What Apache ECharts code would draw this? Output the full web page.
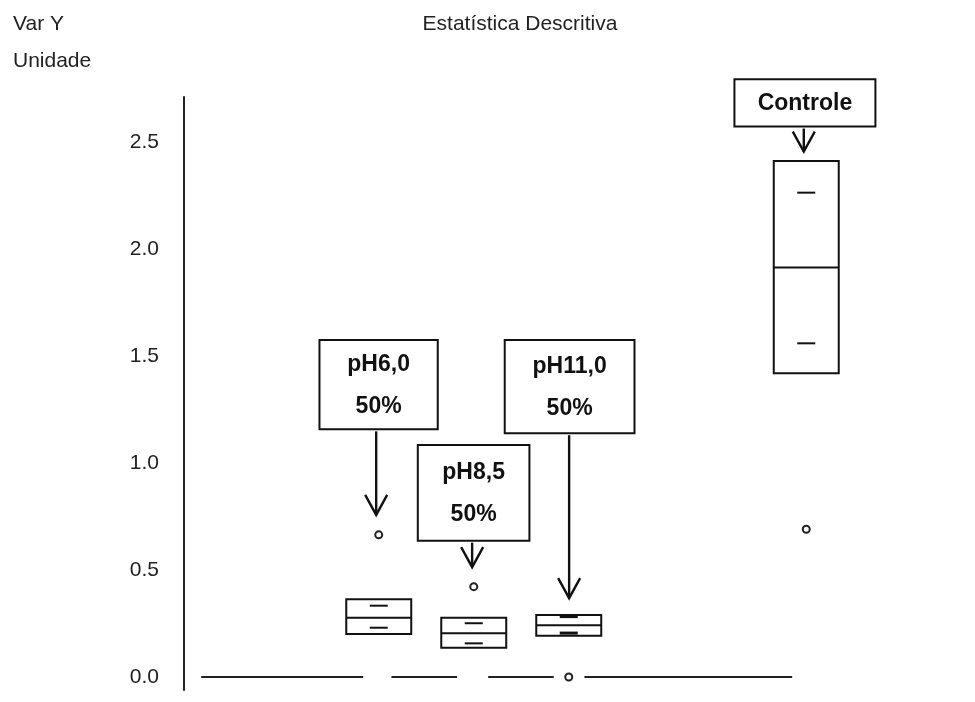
<!DOCTYPE html>
<html>
<head>
<meta charset="utf-8">
<script src="https://cdn.jsdelivr.net/npm/echarts@6/dist/echarts.min.js"></script>
<style>
  html, body { margin: 0; padding: 0; background: #fff; }
  #chart { width: 975px; height: 702px; }
</style>
</head>
<body>
<div id="chart"></div>
<script>
// ---- data ----
var categories = ['pH6,0', 'pH8,5', 'pH11,0', 'Controle'];
var xPos       = [2, 3, 4, 6.5];
var q1         = [0.201, 0.136, 0.192, 1.419];
var median     = [0.277, 0.204, 0.241, 1.913];
var q3         = [0.363, 0.277, 0.290, 2.411];
var upperMark  = [0.333, 0.251, 0.282, 2.263];
var lowerMark  = [0.230, 0.157, 0.205, 1.559];
var outliers   = [0.664, 0.422, 0.0, 0.690];

var baseStart  = [0.131, 2.134, 3.152, 4.165];
var baseEnd    = [1.836, 2.825, 3.842, 6.352];

var annoLabels = ['pH6,0\n50%', 'pH8,5\n50%', 'pH11,0\n50%', 'Controle'];
var annoX0     = [1.376, 2.411, 3.326, 5.744];
var annoX1     = [2.621, 3.586, 4.692, 7.228];
var annoTop    = [1.575, 1.084, 1.575, 2.793];
var annoBottom = [1.157, 0.637, 1.139, 2.572];
var arrowX     = [1.973, 2.983, 4.004, 6.474];
var arrowTip   = [0.757, 0.513, 0.368, 2.455];

var yTicks = [0, 0.5, 1.0, 1.5, 2.0, 2.5];

// ---- build ----
var boxData = categories.map(function (c, i) {
  return [xPos[i], q1[i], median[i], q3[i], upperMark[i], lowerMark[i], i];
});
var outlierData = categories.map(function (c, i) { return [xPos[i], outliers[i]]; });
var baseData = baseStart.map(function (s, i) { return [s, baseEnd[i]]; });
var annoData = annoLabels.map(function (l, i) {
  return [annoX0[i], annoX1[i], annoTop[i], annoBottom[i], arrowX[i], arrowTip[i], i];
});

var BOX_HALF = 0.342;
var chart = echarts.init(document.getElementById('chart'));
var FONT = '"Liberation Sans", Arial, sans-serif';

chart.setOption({
  animation: false,
  backgroundColor: '#ffffff',
  title: [
    { text: 'Estatística Descritiva', left: 520, top: 13, textAlign: 'center', padding: 0,
      textStyle: { fontFamily: FONT, fontSize: 21, fontWeight: 'normal', color: '#222', lineHeight: 22 } },
    { text: 'Var Y', left: 13, top: 13, padding: 0,
      textStyle: { fontFamily: FONT, fontSize: 21, fontWeight: 'normal', color: '#222', lineHeight: 22 } },
    { text: 'Unidade', left: 13, top: 50, padding: 0,
      textStyle: { fontFamily: FONT, fontSize: 21, fontWeight: 'normal', color: '#222', lineHeight: 22 } }
  ],
  grid: { left: 184, right: 26.25, top: 97, bottom: 12, containLabel: false },
  xAxis: { type: 'value', min: -0.05, max: 8, show: false },
  yAxis: {
    type: 'value', min: -0.061, max: 2.71,
    axisLine: { show: true, onZero: false, lineStyle: { color: '#222', width: 2 } },
    axisTick: { show: false },
    splitLine: { show: false },
    axisLabel: {
      customValues: yTicks,
      margin: 25,
      fontFamily: FONT, fontSize: 21, color: '#222',
      formatter: function (v) { return Number(v).toFixed(1); }
    }
  },
  series: [
    {
      type: 'custom',
      data: baseData,
      clip: false,
      renderItem: function (params, api) {
        var a = api.coord([api.value(0), 0]);
        var b = api.coord([api.value(1), 0]);
        return { type: 'line', shape: { x1: a[0], y1: a[1], x2: b[0], y2: b[1] },
          style: { stroke: '#222', lineWidth: 2 } };
      }
    },
    {
      type: 'custom',
      data: boxData,
      clip: false,
      renderItem: function (params, api) {
        var x = api.value(0);
        var pl = api.coord([x - BOX_HALF, api.value(3)]);
        var pr = api.coord([x + BOX_HALF, api.value(1)]);
        var pm = api.coord([x, api.value(2)]);
        var pu = api.coord([x, api.value(4)]);
        var pd = api.coord([x, api.value(5)]);
        var bold = api.value(6) === 2;
        var mw = 9;
        return {
          type: 'group',
          children: [
            { type: 'rect', shape: { x: pl[0], y: pl[1], width: pr[0] - pl[0], height: pr[1] - pl[1] },
              style: { fill: 'none', stroke: '#111', lineWidth: 2 } },
            { type: 'line', shape: { x1: pl[0], y1: pm[1], x2: pr[0], y2: pm[1] },
              style: { stroke: '#111', lineWidth: 2 } },
            { type: 'line', shape: { x1: pu[0] - mw, y1: pu[1], x2: pu[0] + mw, y2: pu[1] },
              style: { stroke: '#111', lineWidth: bold ? 3 : 2 } },
            { type: 'line', shape: { x1: pd[0] - mw, y1: pd[1], x2: pd[0] + mw, y2: pd[1] },
              style: { stroke: '#111', lineWidth: bold ? 3 : 2 } }
          ]
        };
      }
    },
    {
      type: 'scatter',
      data: outlierData,
      symbol: 'emptyCircle',
      symbolSize: 7,
      clip: false,
      itemStyle: { color: '#222', borderColor: '#222', borderWidth: 1.8, opacity: 1 },
      z: 5
    },
    {
      type: 'custom',
      data: annoData,
      clip: false,
      z: 10,
      renderItem: function (params, api) {
        var tl = api.coord([api.value(0), api.value(2)]);
        var br = api.coord([api.value(1), api.value(3)]);
        var as = api.coord([api.value(4), api.value(3)]);
        var at = api.coord([api.value(4), api.value(5)]);
        var idx = api.value(6);
        return {
          type: 'group',
          children: [
            { type: 'rect', shape: { x: tl[0], y: tl[1], width: br[0] - tl[0], height: br[1] - tl[1] },
              style: { fill: '#fff', stroke: '#111', lineWidth: 2 } },
            { type: 'text', style: {
                text: annoLabels[idx], x: (tl[0] + br[0]) / 2, y: (tl[1] + br[1]) / 2 + 1,
                align: 'center', verticalAlign: 'middle',
                fontFamily: FONT, fontSize: 23, fontWeight: 'bold', lineHeight: 42, fill: '#111' } },
            { type: 'line', shape: { x1: as[0], y1: as[1] + 2, x2: at[0], y2: at[1] },
              style: { stroke: '#111', lineWidth: 2.4 } },
            { type: 'polyline', shape: { points: [[at[0] - 11, at[1] - 20], [at[0], at[1]], [at[0] + 11, at[1] - 20]] },
              style: { fill: 'none', stroke: '#111', lineWidth: 2.4 } }
          ]
        };
      }
    }
  ]
});
</script>
</body>
</html>
